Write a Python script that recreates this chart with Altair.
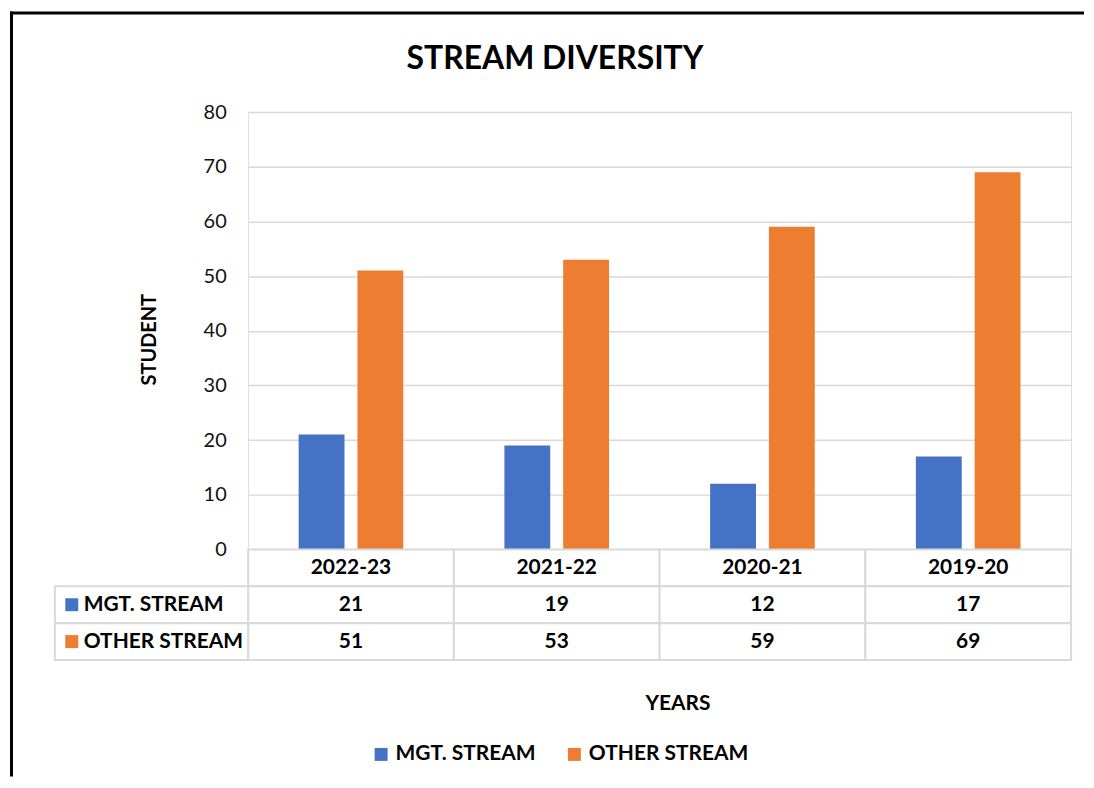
import altair as alt
import pandas as pd

# ---- data ----
years = ["2022-23", "2021-22", "2020-21", "2019-20"]
mgt_stream = [21, 19, 12, 17]
other_stream = [51, 53, 59, 69]
series_names = ["MGT. STREAM", "OTHER STREAM"]
series_colors = ["#4472C4", "#ED7D31"]
y_ticks = [0, 10, 20, 30, 40, 50, 60, 70, 80]
header_row = "YEAR"

# ---- tables built from the arrays ----
bar_rows = []
for i, yr in enumerate(years):
    bar_rows.append({"year": yr, "series": series_names[0], "value": mgt_stream[i]})
    bar_rows.append({"year": yr, "series": series_names[1], "value": other_stream[i]})
bars_df = pd.DataFrame(bar_rows)

row_order = [header_row] + series_names
cell_rows = []
for i, yr in enumerate(years):
    cell_rows.append({"year": yr, "row": header_row, "label": yr})
    cell_rows.append({"year": yr, "row": series_names[0], "label": str(mgt_stream[i])})
    cell_rows.append({"year": yr, "row": series_names[1], "label": str(other_stream[i])})
cells_df = pd.DataFrame(cell_rows)
labels_df = pd.DataFrame({"row": series_names, "series": series_names})
frame_df = pd.DataFrame({"k": [0]})

FONT = "Lato"
W, H, ROW = 826, 439, 37
LABEL_COL = 194
GRID = "#D9D9D9"
TXT = 21

color_scale = alt.Scale(domain=series_names, range=series_colors)

# ---- top: clustered bars ----
top = alt.Chart(bars_df).mark_bar().encode(
    x=alt.X("year:N", sort=years, axis=None,
            scale=alt.Scale(paddingInner=0, paddingOuter=0)),
    xOffset=alt.XOffset("series:N", sort=series_names,
                        scale=alt.Scale(paddingInner=0.22, paddingOuter=0.86)),
    y=alt.Y("value:Q", scale=alt.Scale(domain=[0, 80]),
            axis=alt.Axis(values=y_ticks, title="STUDENT", titleFont=FONT,
                          titleFontSize=20, titleFontWeight="bold", titleColor="black",
                          titlePadding=44, titleY=228,
                          labelFont=FONT, labelFontSize=20, labelColor="#111111",
                          labelPadding=22, ticks=False, tickSize=0, domain=False,
                          grid=True, gridColor=GRID, gridWidth=1.5)),
    color=alt.Color("series:N", scale=color_scale, legend=None),
).properties(
    width=W, height=H,
    title=alt.TitleParams("STREAM DIVERSITY", font=FONT, fontSize=32, fontWeight="bold",
                          color="black", anchor="middle", frame="group", dx=-105,
                          baseline="alphabetic", offset=1),
)

# ---- bottom: data table ----
x_tbl = alt.X("year:N", sort=years, scale=alt.Scale(paddingInner=0, paddingOuter=0),
              axis=alt.Axis(title="YEARS", titleFont=FONT, titleFontSize=21,
                            titleFontWeight="bold", titleColor="black", titlePadding=33,
                            titleX=431, labels=False, ticks=False, domain=False, grid=False))
y_tbl = alt.Y("row:N", sort=row_order,
              scale=alt.Scale(domain=row_order, paddingInner=0, paddingOuter=0), axis=None)

cells = alt.Chart(cells_df).mark_rect(fill="white", stroke=GRID, strokeWidth=2).encode(
    x=x_tbl, y=y_tbl)
cell_text = alt.Chart(cells_df).mark_text(font=FONT, fontSize=TXT, fontWeight="bold",
                                          color="black").encode(
    x=x_tbl, y=y_tbl, text="label:N")
label_cells = alt.Chart(labels_df).mark_rect(fill="white", stroke=GRID, strokeWidth=2).encode(
    x=alt.value(-LABEL_COL), x2=alt.value(0), y=y_tbl)
swatches = alt.Chart(labels_df).mark_square(size=169, opacity=1).encode(
    x=alt.value(-177), y=y_tbl,
    color=alt.Color("series:N", scale=color_scale,
                    legend=alt.Legend(title=None, orient="none", legendX=123, legendY=195,
                                      direction="horizontal", symbolType="square",
                                      symbolSize=169, symbolStrokeWidth=0, symbolOpacity=1,
                                      labelFont=FONT, labelFontSize=TXT,
                                      labelFontWeight="bold", labelColor="black",
                                      labelLimit=400, labelOffset=4, columnPadding=28,
                                      padding=0)))
label_text = alt.Chart(labels_df).mark_text(align="left", font=FONT, fontSize=TXT,
                                            fontWeight="bold", color="black").encode(
    x=alt.value(-165), y=y_tbl, text="row:N")

# chart-area frame (top and left edges visible in the reference)
frame_top = alt.Chart(frame_df).mark_rule(color="black", strokeWidth=3).encode(
    x=alt.value(-239), x2=alt.value(839), y=alt.value(-538.5))
frame_left = alt.Chart(frame_df).mark_rule(color="black", strokeWidth=3).encode(
    x=alt.value(-237.5), y=alt.value(-540), y2=alt.value(228))

table = alt.layer(cells, label_cells, cell_text, swatches, label_text,
                  frame_top, frame_left).properties(width=W, height=ROW * 3)

chart = alt.vconcat(top, table, spacing=0, bounds="flush").resolve_scale(
    color="independent", x="independent"
).properties(padding=0).configure_view(stroke="transparent").configure(font=FONT)

chart.save("out.html", embed_options={"renderer": "svg", "actions": False})
